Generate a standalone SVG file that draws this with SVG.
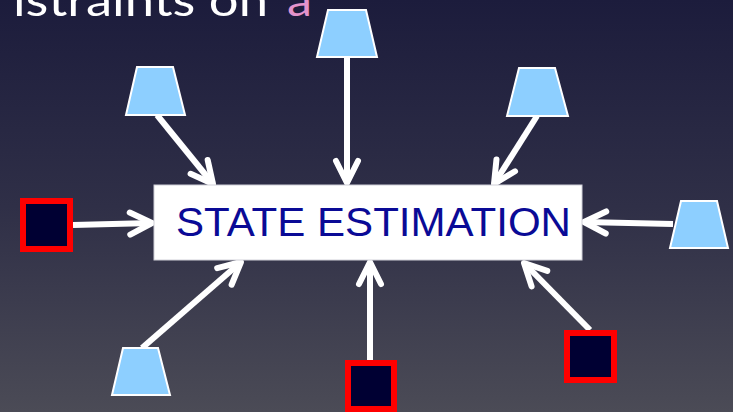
<svg xmlns="http://www.w3.org/2000/svg" width="733" height="412" viewBox="0 0 733 412">
  <defs>
    <linearGradient id="bg" x1="0" y1="0" x2="0" y2="1">
      <stop offset="0" stop-color="#1c1c3c"/>
      <stop offset="0.5" stop-color="#2f2f47"/>
      <stop offset="1" stop-color="#4b4b56"/>
    </linearGradient>
    <marker id="head" markerUnits="userSpaceOnUse" viewBox="-30 -20 40 40" markerWidth="40" markerHeight="40" refX="0" refY="0" orient="auto">
      <path d="M -22 -11 L 0 0 L -22 11" fill="none" stroke="#ffffff" stroke-width="6" stroke-linecap="round" stroke-linejoin="round"/>
    </marker>
  </defs>
  <style>
    .sensor { fill: #8dcfff; stroke: #ffffff; stroke-width: 2; }
    .input { fill: #000033; stroke: #ff0000; stroke-width: 6; }
    .link { stroke: #ffffff; stroke-width: 6; fill: none; marker-end: url(#head); }
    .title { font-family: "Lato", "Open Sans", "DejaVu Sans", sans-serif; font-size: 44px; font-weight: 400; }
  </style>

  <rect x="0" y="0" width="733" height="412" fill="url(#bg)"/>

  <!-- heading, running off the top edge -->
  <text class="title" x="13" y="16" fill="#ffffff" textLength="255" lengthAdjust="spacingAndGlyphs">istraints on</text>
  <text class="title" x="287" y="16" fill="#e393cb" textLength="25" lengthAdjust="spacingAndGlyphs">a</text>

  <!-- connectors -->
  <g id="connectors">
    <line class="link" x1="347" y1="57" x2="347" y2="183"/>
    <line class="link" x1="157" y1="115" x2="213" y2="184"/>
    <line class="link" x1="537" y1="116" x2="494" y2="184"/>
    <line class="link" x1="673" y1="224" x2="584" y2="222"/>
    <line class="link" x1="73" y1="225" x2="152" y2="223"/>
    <line class="link" x1="142" y1="348" x2="241" y2="262"/>
    <line class="link" x1="370" y1="360" x2="370" y2="262"/>
    <line class="link" x1="590" y1="330" x2="524" y2="263"/>
  </g>

  <!-- central estimator -->
  <g id="state-estimation">
    <rect x="154" y="185" width="428" height="75" fill="#ffffff" stroke="#d0d0d8" stroke-width="1"/>
    <text x="176" y="236" textLength="395" lengthAdjust="spacingAndGlyphs" font-family="'Liberation Sans', Arial, sans-serif" font-size="41" fill="#0a0a96">STATE ESTIMATION</text>
  </g>

  <!-- measurement sources -->
  <g id="sensor-top"><polygon class="sensor" points="328,10 366,10 377,57 317,57"/></g>
  <g id="sensor-top-left"><polygon class="sensor" points="137,67 173,67 185,115 126,115"/></g>
  <g id="sensor-top-right"><polygon class="sensor" points="519,68 555,68 568,116 507,116"/></g>
  <g id="sensor-right"><polygon class="sensor" points="681,201 717,201 728,248 670,248"/></g>
  <g id="sensor-bottom-left"><polygon class="sensor" points="123,348 158,348 170,395 112,395"/></g>

  <!-- input sources -->
  <g id="input-left"><rect class="input" x="23" y="201" width="47" height="48"/></g>
  <g id="input-bottom"><rect class="input" x="348" y="363" width="46" height="46"/></g>
  <g id="input-bottom-right"><rect class="input" x="567" y="333" width="47" height="47"/></g>
</svg>
